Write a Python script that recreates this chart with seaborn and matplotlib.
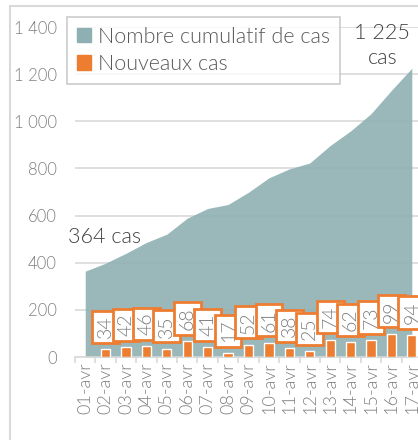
import matplotlib
matplotlib.use("Agg")
import pandas as pd
import matplotlib.pyplot as plt
from matplotlib.patches import Patch
from matplotlib.lines import Line2D
from matplotlib.ticker import FuncFormatter, FixedLocator
import seaborn as sns

# data
dates = ["01-avr", "02-avr", "03-avr", "04-avr", "05-avr", "06-avr", "07-avr",
         "08-avr", "09-avr", "10-avr", "11-avr", "12-avr", "13-avr", "14-avr",
         "15-avr", "16-avr", "17-avr"]
cumul = [364, 398, 440, 486, 521, 589, 630, 647, 699, 760, 798, 823, 897,
         959, 1032, 1131, 1225]
new_cases = [None, 34, 42, 46, 35, 68, 41, 17, 52, 61, 38, 25, 74, 62, 73, 99, 94]
yticks = [0, 200, 400, 600, 800, 1000, 1200, 1400]

TEAL = "#8FB0B2"
ORANGE = "#ED7D31"
GRID = "#D9D9D9"
GREY_TXT = "#808080"

sns.set_theme(style="white")
plt.rcParams["font.family"] = ["Lato", "DejaVu Sans"]
plt.rcParams["font.weight"] = 300

df = pd.DataFrame({"date": dates, "cumul": cumul, "new": new_cases})

fig = plt.figure(figsize=(4.18, 4.40), dpi=100)
ax = fig.add_axes([75 / 418, 83 / 440, 347 / 418, 330 / 440])

# outer chart frame (left and top edges visible)
fig.add_artist(Line2D([10 / 418, 10 / 418], [0, 434 / 440], color=GRID, lw=1.5,
                      transform=fig.transFigure))
fig.add_artist(Line2D([10 / 418, 1], [434 / 440, 434 / 440], color=GRID, lw=1.5,
                      transform=fig.transFigure))

ax.fill_between(range(len(dates)), df["cumul"], color=TEAL, alpha=0.9, lw=0, zorder=1)
sns.barplot(data=df, x="date", y="new", order=dates, color=ORANGE, width=0.45,
            saturation=1, ax=ax, zorder=3)

for i, v in enumerate(new_cases):
    if v is None:
        continue
    ax.annotate(str(v), (i, v), xytext=(0, 8), textcoords="offset points",
                rotation=90, ha="center", va="bottom", fontsize=14,
                color="#7F7F7F", zorder=5, fontweight=300,
                bbox=dict(boxstyle="square,pad=0.25", fc="white", ec=ORANGE, lw=2))

ax.text(0.95, 510, "364 cas", ha="center", va="center", fontsize=15.5,
        color="#404040", fontweight=300)
ax.text(14.55, 1322, "1 225\ncas", ha="center", va="center", fontsize=15.5,
        color="#404040", linespacing=1.3, fontweight=300)

ax.set_xlim(-0.5, len(dates) - 0.5)
ax.set_ylim(0, 1400)
ax.set_yticks(yticks)
ax.yaxis.set_major_formatter(FuncFormatter(lambda v, p: f"{int(v):,}".replace(",", " ")))
ax.grid(axis="y", color=GRID, lw=1.2)
ax.set_axisbelow(True)
for s in ["top", "right", "left"]:
    ax.spines[s].set_visible(False)
ax.spines["bottom"].set_color(GRID)
ax.spines["bottom"].set_linewidth(1.2)

ax.xaxis.set_minor_locator(FixedLocator([i - 0.5 for i in range(len(dates) + 1)]))
ax.tick_params(axis="x", which="minor", bottom=True, length=4, color=GRID, width=1.2)
ax.tick_params(axis="x", which="major", length=0, pad=4, labelrotation=90,
               labelsize=13, labelcolor=GREY_TXT)
ax.tick_params(axis="y", length=0, pad=13, labelsize=12, labelcolor=GREY_TXT)
for lbl in ax.get_xticklabels() + ax.get_yticklabels():
    lbl.set_fontweight(300)
ax.set_xlabel("")
ax.set_ylabel("")

handles = [Patch(color=TEAL, label="Nombre cumulatif de cas"),
           Patch(color=ORANGE, label="Nouveaux cas")]
leg = fig.legend(handles=handles, loc="upper left",
                 bbox_to_anchor=(67 / 418, 1 - 17 / 440),
                 frameon=True, fancybox=False, handlelength=0.65, handleheight=0.65,
                 handletextpad=0.35, labelspacing=0.35, borderpad=0.45,
                 borderaxespad=0, labelcolor="#595959",
                 prop={"weight": 300, "size": 15.5})
leg.get_frame().set_edgecolor("#BFBFBF")
leg.get_frame().set_linewidth(1.2)
leg.set_zorder(10)

fig.savefig("out.png", dpi=100)
